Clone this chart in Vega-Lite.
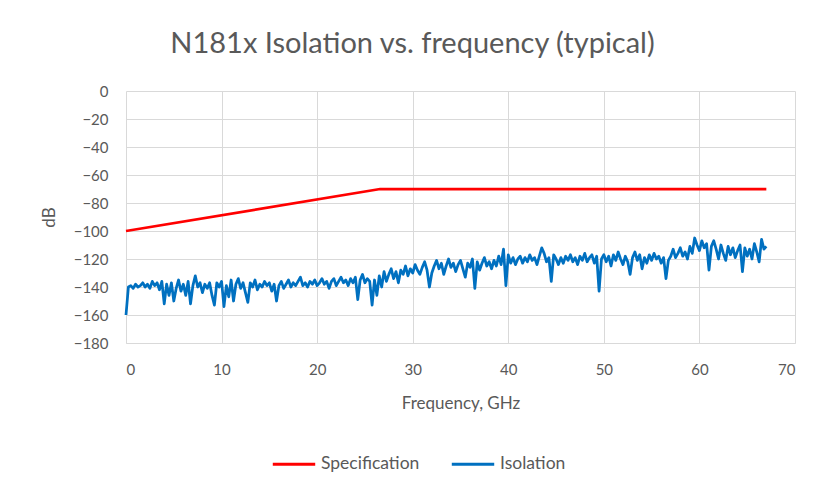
{
  "$schema": "https://vega.github.io/schema/vega-lite/v6.json",
  "width": 669,
  "height": 252,
  "autosize": {"type": "none"},
  "padding": {"left": 126, "top": 91, "right": 22, "bottom": 148},
  "background": "white",
  "config": {
    "font": "Lato",
    "view": {"stroke": null},
    "axis": {"labelColor": "#595959", "titleColor": "#595959", "labelFontSize": 15, "titleFontSize": 17, "titleFontWeight": "normal", "gridColor": "#d9d9d9", "domainColor": "#d9d9d9", "ticks": false}
  },
  "title": {"text": "N181x Isolation vs. frequency (typical)", "fontSize": 29, "fontWeight": "normal", "color": "#595959", "anchor": "middle", "frame": "group", "dx": -48, "offset": 25},
  "data": {"values": [
    {"f": 0, "db": -100, "s": "Specification"},
    {"f": 26.6, "db": -70, "s": "Specification"},
    {"f": 67, "db": -70, "s": "Specification"},
    {"f":0,"db":-160,"s":"Isolation"},{"f":0.25,"db":-140,"s":"Isolation"},{"f":0.5,"db":-139,"s":"Isolation"},{"f":0.75,"db":-141,"s":"Isolation"},
    {"f":1,"db":-138,"s":"Isolation"},{"f":1.25,"db":-140,"s":"Isolation"},{"f":1.5,"db":-139,"s":"Isolation"},{"f":1.75,"db":-137,"s":"Isolation"},
    {"f":2,"db":-140,"s":"Isolation"},{"f":2.25,"db":-138,"s":"Isolation"},{"f":2.5,"db":-141,"s":"Isolation"},{"f":2.75,"db":-136,"s":"Isolation"},
    {"f":3,"db":-139,"s":"Isolation"},{"f":3.25,"db":-137,"s":"Isolation"},{"f":3.5,"db":-142,"s":"Isolation"},{"f":3.75,"db":-136,"s":"Isolation"},
    {"f":4,"db":-152,"s":"Isolation"},{"f":4.25,"db":-138,"s":"Isolation"},{"f":4.5,"db":-146,"s":"Isolation"},{"f":4.75,"db":-137,"s":"Isolation"},
    {"f":5,"db":-150,"s":"Isolation"},{"f":5.25,"db":-141,"s":"Isolation"},{"f":5.5,"db":-135,"s":"Isolation"},{"f":5.75,"db":-143,"s":"Isolation"},
    {"f":6,"db":-138,"s":"Isolation"},{"f":6.25,"db":-146,"s":"Isolation"},{"f":6.5,"db":-136,"s":"Isolation"},{"f":6.75,"db":-152,"s":"Isolation"},
    {"f":7,"db":-139,"s":"Isolation"},{"f":7.25,"db":-132,"s":"Isolation"},{"f":7.5,"db":-140,"s":"Isolation"},{"f":7.75,"db":-137,"s":"Isolation"},
    {"f":8,"db":-144,"s":"Isolation"},{"f":8.25,"db":-138,"s":"Isolation"},{"f":8.5,"db":-141,"s":"Isolation"},{"f":8.75,"db":-137,"s":"Isolation"},
    {"f":9,"db":-146,"s":"Isolation"},{"f":9.25,"db":-153,"s":"Isolation"},{"f":9.5,"db":-137,"s":"Isolation"},{"f":9.75,"db":-140,"s":"Isolation"},
    {"f":10,"db":-136,"s":"Isolation"},{"f":10.25,"db":-154,"s":"Isolation"},{"f":10.5,"db":-139,"s":"Isolation"},{"f":10.75,"db":-147,"s":"Isolation"},
    {"f":11,"db":-135,"s":"Isolation"},{"f":11.25,"db":-150,"s":"Isolation"},{"f":11.5,"db":-138,"s":"Isolation"},{"f":11.75,"db":-134,"s":"Isolation"},
    {"f":12,"db":-141,"s":"Isolation"},{"f":12.25,"db":-137,"s":"Isolation"},{"f":12.5,"db":-144,"s":"Isolation"},{"f":12.75,"db":-151,"s":"Isolation"},
    {"f":13,"db":-137,"s":"Isolation"},{"f":13.25,"db":-140,"s":"Isolation"},{"f":13.5,"db":-135,"s":"Isolation"},{"f":13.75,"db":-142,"s":"Isolation"},
    {"f":14,"db":-138,"s":"Isolation"},{"f":14.25,"db":-140,"s":"Isolation"},{"f":14.5,"db":-136,"s":"Isolation"},{"f":14.75,"db":-139,"s":"Isolation"},
    {"f":15,"db":-137,"s":"Isolation"},{"f":15.25,"db":-143,"s":"Isolation"},{"f":15.5,"db":-138,"s":"Isolation"},{"f":15.75,"db":-150,"s":"Isolation"},
    {"f":16,"db":-139,"s":"Isolation"},{"f":16.25,"db":-136,"s":"Isolation"},{"f":16.5,"db":-141,"s":"Isolation"},{"f":16.75,"db":-138,"s":"Isolation"},
    {"f":17,"db":-135,"s":"Isolation"},{"f":17.25,"db":-140,"s":"Isolation"},{"f":17.5,"db":-137,"s":"Isolation"},{"f":17.75,"db":-139,"s":"Isolation"},
    {"f":18,"db":-136,"s":"Isolation"},{"f":18.25,"db":-133,"s":"Isolation"},{"f":18.5,"db":-139,"s":"Isolation"},{"f":18.75,"db":-137,"s":"Isolation"},
    {"f":19,"db":-140,"s":"Isolation"},{"f":19.25,"db":-136,"s":"Isolation"},{"f":19.5,"db":-138,"s":"Isolation"},{"f":19.75,"db":-135,"s":"Isolation"},
    {"f":20,"db":-139,"s":"Isolation"},{"f":20.25,"db":-137,"s":"Isolation"},{"f":20.5,"db":-134,"s":"Isolation"},{"f":20.75,"db":-138,"s":"Isolation"},
    {"f":21,"db":-136,"s":"Isolation"},{"f":21.25,"db":-141,"s":"Isolation"},{"f":21.5,"db":-136,"s":"Isolation"},{"f":21.75,"db":-134,"s":"Isolation"},
    {"f":22,"db":-139,"s":"Isolation"},{"f":22.25,"db":-136,"s":"Isolation"},{"f":22.5,"db":-133,"s":"Isolation"},{"f":22.75,"db":-137,"s":"Isolation"},
    {"f":23,"db":-135,"s":"Isolation"},{"f":23.25,"db":-139,"s":"Isolation"},{"f":23.5,"db":-134,"s":"Isolation"},{"f":23.75,"db":-137,"s":"Isolation"},
    {"f":24,"db":-133,"s":"Isolation"},{"f":24.25,"db":-149,"s":"Isolation"},{"f":24.5,"db":-135,"s":"Isolation"},{"f":24.75,"db":-131,"s":"Isolation"},
    {"f":25,"db":-137,"s":"Isolation"},{"f":25.25,"db":-134,"s":"Isolation"},{"f":25.5,"db":-136,"s":"Isolation"},{"f":25.75,"db":-153,"s":"Isolation"},
    {"f":26,"db":-135,"s":"Isolation"},{"f":26.25,"db":-146,"s":"Isolation"},{"f":26.5,"db":-132,"s":"Isolation"},{"f":26.75,"db":-140,"s":"Isolation"},
    {"f":27,"db":-129,"s":"Isolation"},{"f":27.25,"db":-136,"s":"Isolation"},{"f":27.5,"db":-131,"s":"Isolation"},{"f":27.75,"db":-127,"s":"Isolation"},
    {"f":28,"db":-134,"s":"Isolation"},{"f":28.25,"db":-129,"s":"Isolation"},{"f":28.5,"db":-137,"s":"Isolation"},{"f":28.75,"db":-128,"s":"Isolation"},
    {"f":29,"db":-131,"s":"Isolation"},{"f":29.25,"db":-125,"s":"Isolation"},{"f":29.5,"db":-132,"s":"Isolation"},{"f":29.75,"db":-127,"s":"Isolation"},
    {"f":30,"db":-130,"s":"Isolation"},{"f":30.25,"db":-124,"s":"Isolation"},{"f":30.5,"db":-128,"s":"Isolation"},{"f":30.75,"db":-131,"s":"Isolation"},
    {"f":31,"db":-126,"s":"Isolation"},{"f":31.25,"db":-122,"s":"Isolation"},{"f":31.5,"db":-128,"s":"Isolation"},{"f":31.75,"db":-140,"s":"Isolation"},
    {"f":32,"db":-130,"s":"Isolation"},{"f":32.25,"db":-125,"s":"Isolation"},{"f":32.5,"db":-121,"s":"Isolation"},{"f":32.75,"db":-127,"s":"Isolation"},
    {"f":33,"db":-123,"s":"Isolation"},{"f":33.25,"db":-131,"s":"Isolation"},{"f":33.5,"db":-125,"s":"Isolation"},{"f":33.75,"db":-120,"s":"Isolation"},
    {"f":34,"db":-126,"s":"Isolation"},{"f":34.25,"db":-123,"s":"Isolation"},{"f":34.5,"db":-129,"s":"Isolation"},{"f":34.75,"db":-124,"s":"Isolation"},
    {"f":35,"db":-121,"s":"Isolation"},{"f":35.25,"db":-127,"s":"Isolation"},{"f":35.5,"db":-133,"s":"Isolation"},{"f":35.75,"db":-123,"s":"Isolation"},
    {"f":36,"db":-126,"s":"Isolation"},{"f":36.25,"db":-120,"s":"Isolation"},{"f":36.5,"db":-141,"s":"Isolation"},{"f":36.75,"db":-122,"s":"Isolation"},
    {"f":37,"db":-128,"s":"Isolation"},{"f":37.25,"db":-123,"s":"Isolation"},{"f":37.5,"db":-119,"s":"Isolation"},{"f":37.75,"db":-125,"s":"Isolation"},
    {"f":38,"db":-122,"s":"Isolation"},{"f":38.25,"db":-127,"s":"Isolation"},{"f":38.5,"db":-121,"s":"Isolation"},{"f":38.75,"db":-125,"s":"Isolation"},
    {"f":39,"db":-118,"s":"Isolation"},{"f":39.25,"db":-124,"s":"Isolation"},{"f":39.5,"db":-113,"s":"Isolation"},{"f":39.75,"db":-139,"s":"Isolation"},
    {"f":40,"db":-117,"s":"Isolation"},{"f":40.25,"db":-123,"s":"Isolation"},{"f":40.5,"db":-119,"s":"Isolation"},{"f":40.75,"db":-124,"s":"Isolation"},
    {"f":41,"db":-120,"s":"Isolation"},{"f":41.25,"db":-118,"s":"Isolation"},{"f":41.5,"db":-123,"s":"Isolation"},{"f":41.75,"db":-119,"s":"Isolation"},
    {"f":42,"db":-122,"s":"Isolation"},{"f":42.25,"db":-117,"s":"Isolation"},{"f":42.5,"db":-121,"s":"Isolation"},{"f":42.75,"db":-119,"s":"Isolation"},
    {"f":43,"db":-124,"s":"Isolation"},{"f":43.25,"db":-118,"s":"Isolation"},{"f":43.5,"db":-112,"s":"Isolation"},{"f":43.75,"db":-116,"s":"Isolation"},
    {"f":44,"db":-122,"s":"Isolation"},{"f":44.25,"db":-119,"s":"Isolation"},{"f":44.5,"db":-136,"s":"Isolation"},{"f":44.75,"db":-117,"s":"Isolation"},
    {"f":45,"db":-120,"s":"Isolation"},{"f":45.25,"db":-124,"s":"Isolation"},{"f":45.5,"db":-119,"s":"Isolation"},{"f":45.75,"db":-123,"s":"Isolation"},
    {"f":46,"db":-118,"s":"Isolation"},{"f":46.25,"db":-121,"s":"Isolation"},{"f":46.5,"db":-117,"s":"Isolation"},{"f":46.75,"db":-122,"s":"Isolation"},
    {"f":47,"db":-119,"s":"Isolation"},{"f":47.25,"db":-124,"s":"Isolation"},{"f":47.5,"db":-118,"s":"Isolation"},{"f":47.75,"db":-121,"s":"Isolation"},
    {"f":48,"db":-116,"s":"Isolation"},{"f":48.25,"db":-122,"s":"Isolation"},{"f":48.5,"db":-119,"s":"Isolation"},{"f":48.75,"db":-117,"s":"Isolation"},
    {"f":49,"db":-123,"s":"Isolation"},{"f":49.25,"db":-118,"s":"Isolation"},{"f":49.5,"db":-143,"s":"Isolation"},{"f":49.75,"db":-120,"s":"Isolation"},
    {"f":50,"db":-117,"s":"Isolation"},{"f":50.25,"db":-122,"s":"Isolation"},{"f":50.5,"db":-118,"s":"Isolation"},{"f":50.75,"db":-125,"s":"Isolation"},
    {"f":51,"db":-117,"s":"Isolation"},{"f":51.25,"db":-121,"s":"Isolation"},{"f":51.5,"db":-115,"s":"Isolation"},{"f":51.75,"db":-120,"s":"Isolation"},
    {"f":52,"db":-124,"s":"Isolation"},{"f":52.25,"db":-118,"s":"Isolation"},{"f":52.5,"db":-122,"s":"Isolation"},{"f":52.75,"db":-131,"s":"Isolation"},
    {"f":53,"db":-119,"s":"Isolation"},{"f":53.25,"db":-115,"s":"Isolation"},{"f":53.5,"db":-121,"s":"Isolation"},{"f":53.75,"db":-117,"s":"Isolation"},
    {"f":54,"db":-127,"s":"Isolation"},{"f":54.25,"db":-119,"s":"Isolation"},{"f":54.5,"db":-123,"s":"Isolation"},{"f":54.75,"db":-117,"s":"Isolation"},
    {"f":55,"db":-121,"s":"Isolation"},{"f":55.25,"db":-116,"s":"Isolation"},{"f":55.5,"db":-120,"s":"Isolation"},{"f":55.75,"db":-118,"s":"Isolation"},
    {"f":56,"db":-123,"s":"Isolation"},{"f":56.25,"db":-119,"s":"Isolation"},{"f":56.5,"db":-134,"s":"Isolation"},{"f":56.75,"db":-121,"s":"Isolation"},
    {"f":57,"db":-118,"s":"Isolation"},{"f":57.25,"db":-113,"s":"Isolation"},{"f":57.5,"db":-119,"s":"Isolation"},{"f":57.75,"db":-116,"s":"Isolation"},
    {"f":58,"db":-112,"s":"Isolation"},{"f":58.25,"db":-118,"s":"Isolation"},{"f":58.5,"db":-115,"s":"Isolation"},{"f":58.75,"db":-120,"s":"Isolation"},
    {"f":59,"db":-111,"s":"Isolation"},{"f":59.25,"db":-116,"s":"Isolation"},{"f":59.5,"db":-105,"s":"Isolation"},{"f":59.75,"db":-110,"s":"Isolation"},
    {"f":60,"db":-114,"s":"Isolation"},{"f":60.25,"db":-107,"s":"Isolation"},{"f":60.5,"db":-112,"s":"Isolation"},{"f":60.75,"db":-109,"s":"Isolation"},
    {"f":61,"db":-128,"s":"Isolation"},{"f":61.25,"db":-111,"s":"Isolation"},{"f":61.5,"db":-107,"s":"Isolation"},{"f":61.75,"db":-113,"s":"Isolation"},
    {"f":62,"db":-120,"s":"Isolation"},{"f":62.25,"db":-110,"s":"Isolation"},{"f":62.5,"db":-116,"s":"Isolation"},{"f":62.75,"db":-121,"s":"Isolation"},
    {"f":63,"db":-111,"s":"Isolation"},{"f":63.25,"db":-117,"s":"Isolation"},{"f":63.5,"db":-112,"s":"Isolation"},{"f":63.75,"db":-119,"s":"Isolation"},
    {"f":64,"db":-114,"s":"Isolation"},{"f":64.25,"db":-110,"s":"Isolation"},{"f":64.5,"db":-129,"s":"Isolation"},{"f":64.75,"db":-112,"s":"Isolation"},
    {"f":65,"db":-118,"s":"Isolation"},{"f":65.25,"db":-113,"s":"Isolation"},{"f":65.5,"db":-120,"s":"Isolation"},{"f":65.75,"db":-109,"s":"Isolation"},
    {"f":66,"db":-115,"s":"Isolation"},{"f":66.25,"db":-122,"s":"Isolation"},{"f":66.5,"db":-106,"s":"Isolation"},{"f":66.75,"db":-113,"s":"Isolation"},
    {"f":67,"db":-111,"s":"Isolation"}
  ]},
  "mark": {"type": "line", "strokeWidth": 2.75, "strokeJoin": "round"},
  "encoding": {
    "x": {"field": "f", "type": "quantitative", "title": "Frequency, GHz",
      "scale": {"domain": [0, 70], "nice": false},
      "axis": {"values": [0, 10, 20, 30, 40, 50, 60, 70], "labelPadding": 19, "titlePadding": 18, "grid": true}},
    "y": {"field": "db", "type": "quantitative", "title": "dB",
      "scale": {"domain": [-180, 0], "nice": false},
      "axis": {"values": [0, -20, -40, -60, -80, -100, -120, -140, -160, -180], "labelPadding": 18, "titlePadding": 15, "domain": false, "grid": true}},
    "color": {"field": "s", "type": "nominal", "title": null,
      "scale": {"domain": ["Specification", "Isolation"], "range": ["#FF0000", "#0070C0"]},
      "legend": {"orient": "none", "legendX": 145, "legendY": 350, "direction": "horizontal", "symbolType": "stroke", "symbolSize": 1800, "symbolStrokeWidth": 3, "labelFontSize": 17.5, "labelColor": "#595959", "columnPadding": 25, "labelOffset": 4}},
    "order": {"field": "f", "type": "quantitative"}
  }
}
